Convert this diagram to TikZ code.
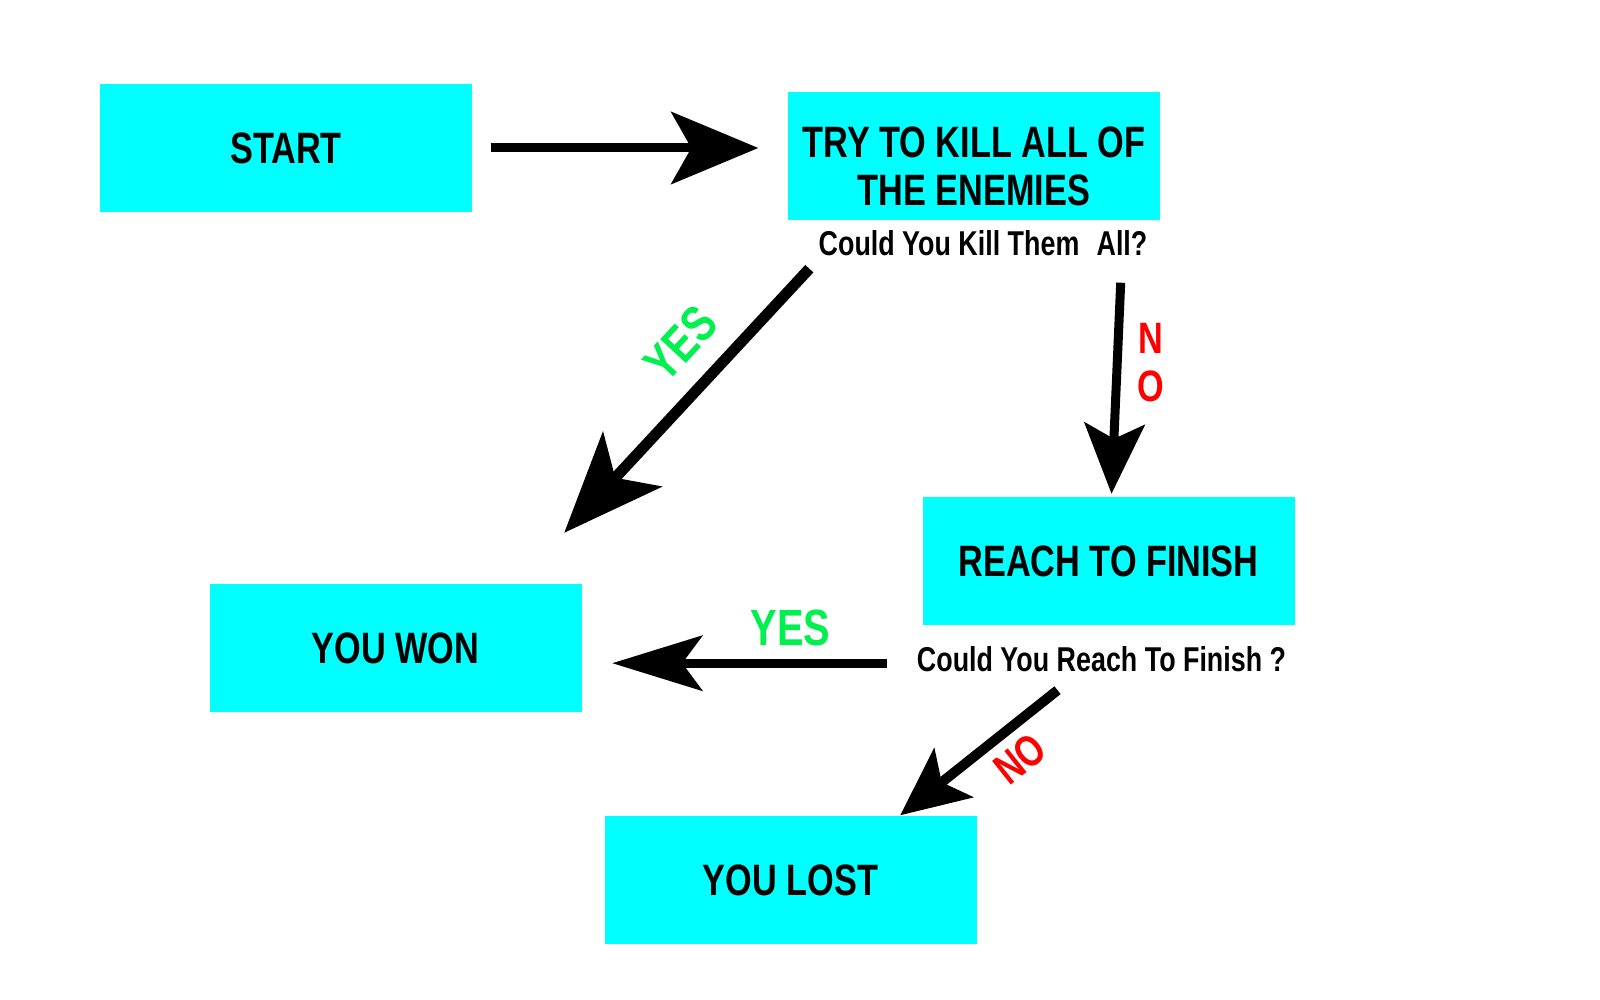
\documentclass[tikz,border=0pt]{standalone}
\usepackage{fontspec}
\setmainfont{Liberation Sans}[FakeStretch=0.78]
\usepackage{tikz}
\usetikzlibrary{arrows.meta}
\definecolor{boxcyan}{RGB}{0,255,255}
\definecolor{yesgreen}{RGB}{0,240,80}
\definecolor{nored}{RGB}{255,0,0}
\tikzstyle{cyanbox} = [rectangle, 
minimum width=3.72cm, 
minimum height=1.28cm, 
inner sep=0pt,
text centered, 
align=center,
fill=boxcyan,
font=\fontsize{12.5}{13.6}\selectfont\bfseries]
\tikzstyle{question} = [inner sep=0pt, 
font=\fontsize{9.8}{11}\selectfont\bfseries]
\tikzstyle{yeslbl} = [inner sep=0pt, text=yesgreen, 
font=\fontsize{14.5}{15}\selectfont\bfseries]
\tikzstyle{nolbl} = [inner sep=0pt, text=nored, align=center,
font=\fontsize{12.5}{13.6}\selectfont\bfseries]
\tikzstyle{arr} = [line width=0.09cm, 
-{Stealth[length=0.87cm, width=0.72cm, inset=0.2cm]}]

\begin{document}
\begin{tikzpicture}[node distance=2cm]
		\fill[white] (0,0) rectangle (16,-10);
		\useasboundingbox (0,0) rectangle (16,-10);
		\node (start) [cyanbox] at (2.86,-1.48) {START};
		\node (try) [cyanbox, right of=start, xshift=4.88cm, yshift=-0.08cm] {\rule{0pt}{0.52cm}TRY TO KILL ALL OF\\THE ENEMIES};
		\node (q1) [question, below of=try, node distance=0.87cm, xshift=0.09cm] {Could You Kill Them\enspace All?};
		\node (reach) [cyanbox, below of=try, xshift=1.345cm, yshift=-2.055cm] {REACH TO FINISH};
		\node (q2) [question, below of=reach, node distance=0.98cm, xshift=-0.07cm] {Could You Reach To Finish ?};
		\node (won) [cyanbox, left of=reach, xshift=-5.13cm, yshift=-0.87cm] {YOU WON};
		\node (lost) [cyanbox, below of=reach, xshift=-3.18cm, yshift=-1.185cm] {YOU LOST};
		
		\coordinate (y1s) at ([shift={(0.22,-0.48)}]try.south west);
		\coordinate (y1e) at ([shift={(-0.18,0.51)}]won.north east);
		\coordinate (n1s) at ([shift={(-0.40,-0.62)}]try.south east);
		\coordinate (y2s) at ([shift={(-0.35,-0.37)}]reach.south west);
		\coordinate (n2s) at ([shift={(-0.51,-0.64)}]reach.south);
		
		\draw [arr, shorten <=0.18cm, shorten >=0.29cm](start.east) -- (start.east -| try.west);
		\draw [arr, line width=0.11cm, -{Stealth[length=1cm, width=0.8cm, inset=0.25cm]}](y1s) -- (y1e)
			node (yes1) [yeslbl, pos=0.395, sloped, above=0.2cm] {YES};
		\draw [arr, -{Stealth[length=0.7cm, width=0.6cm, inset=0.15cm]}](n1s) -- ([shift={(0.03,0.03)}]reach.north)
			node (no1) [nolbl, pos=0.377, right=0.16cm] {N\\O};
		\draw [arr, shorten >=0.3cm, -{Stealth[length=0.9cm, width=0.55cm, inset=0.2cm]}](y2s) -- (y2s -| won.east)
			node (yes2) [yeslbl, pos=0.317, above=0.13cm] {YES};
		\draw [arr, line width=0.1cm, -{Stealth[length=0.68cm, width=0.62cm, inset=0.15cm]}](n2s) -- ([xshift=-0.77cm]lost.north east)
			node (no2) [nolbl, pos=0.359, sloped, below=0.1cm] {NO};
	\end{tikzpicture}
\end{document}
